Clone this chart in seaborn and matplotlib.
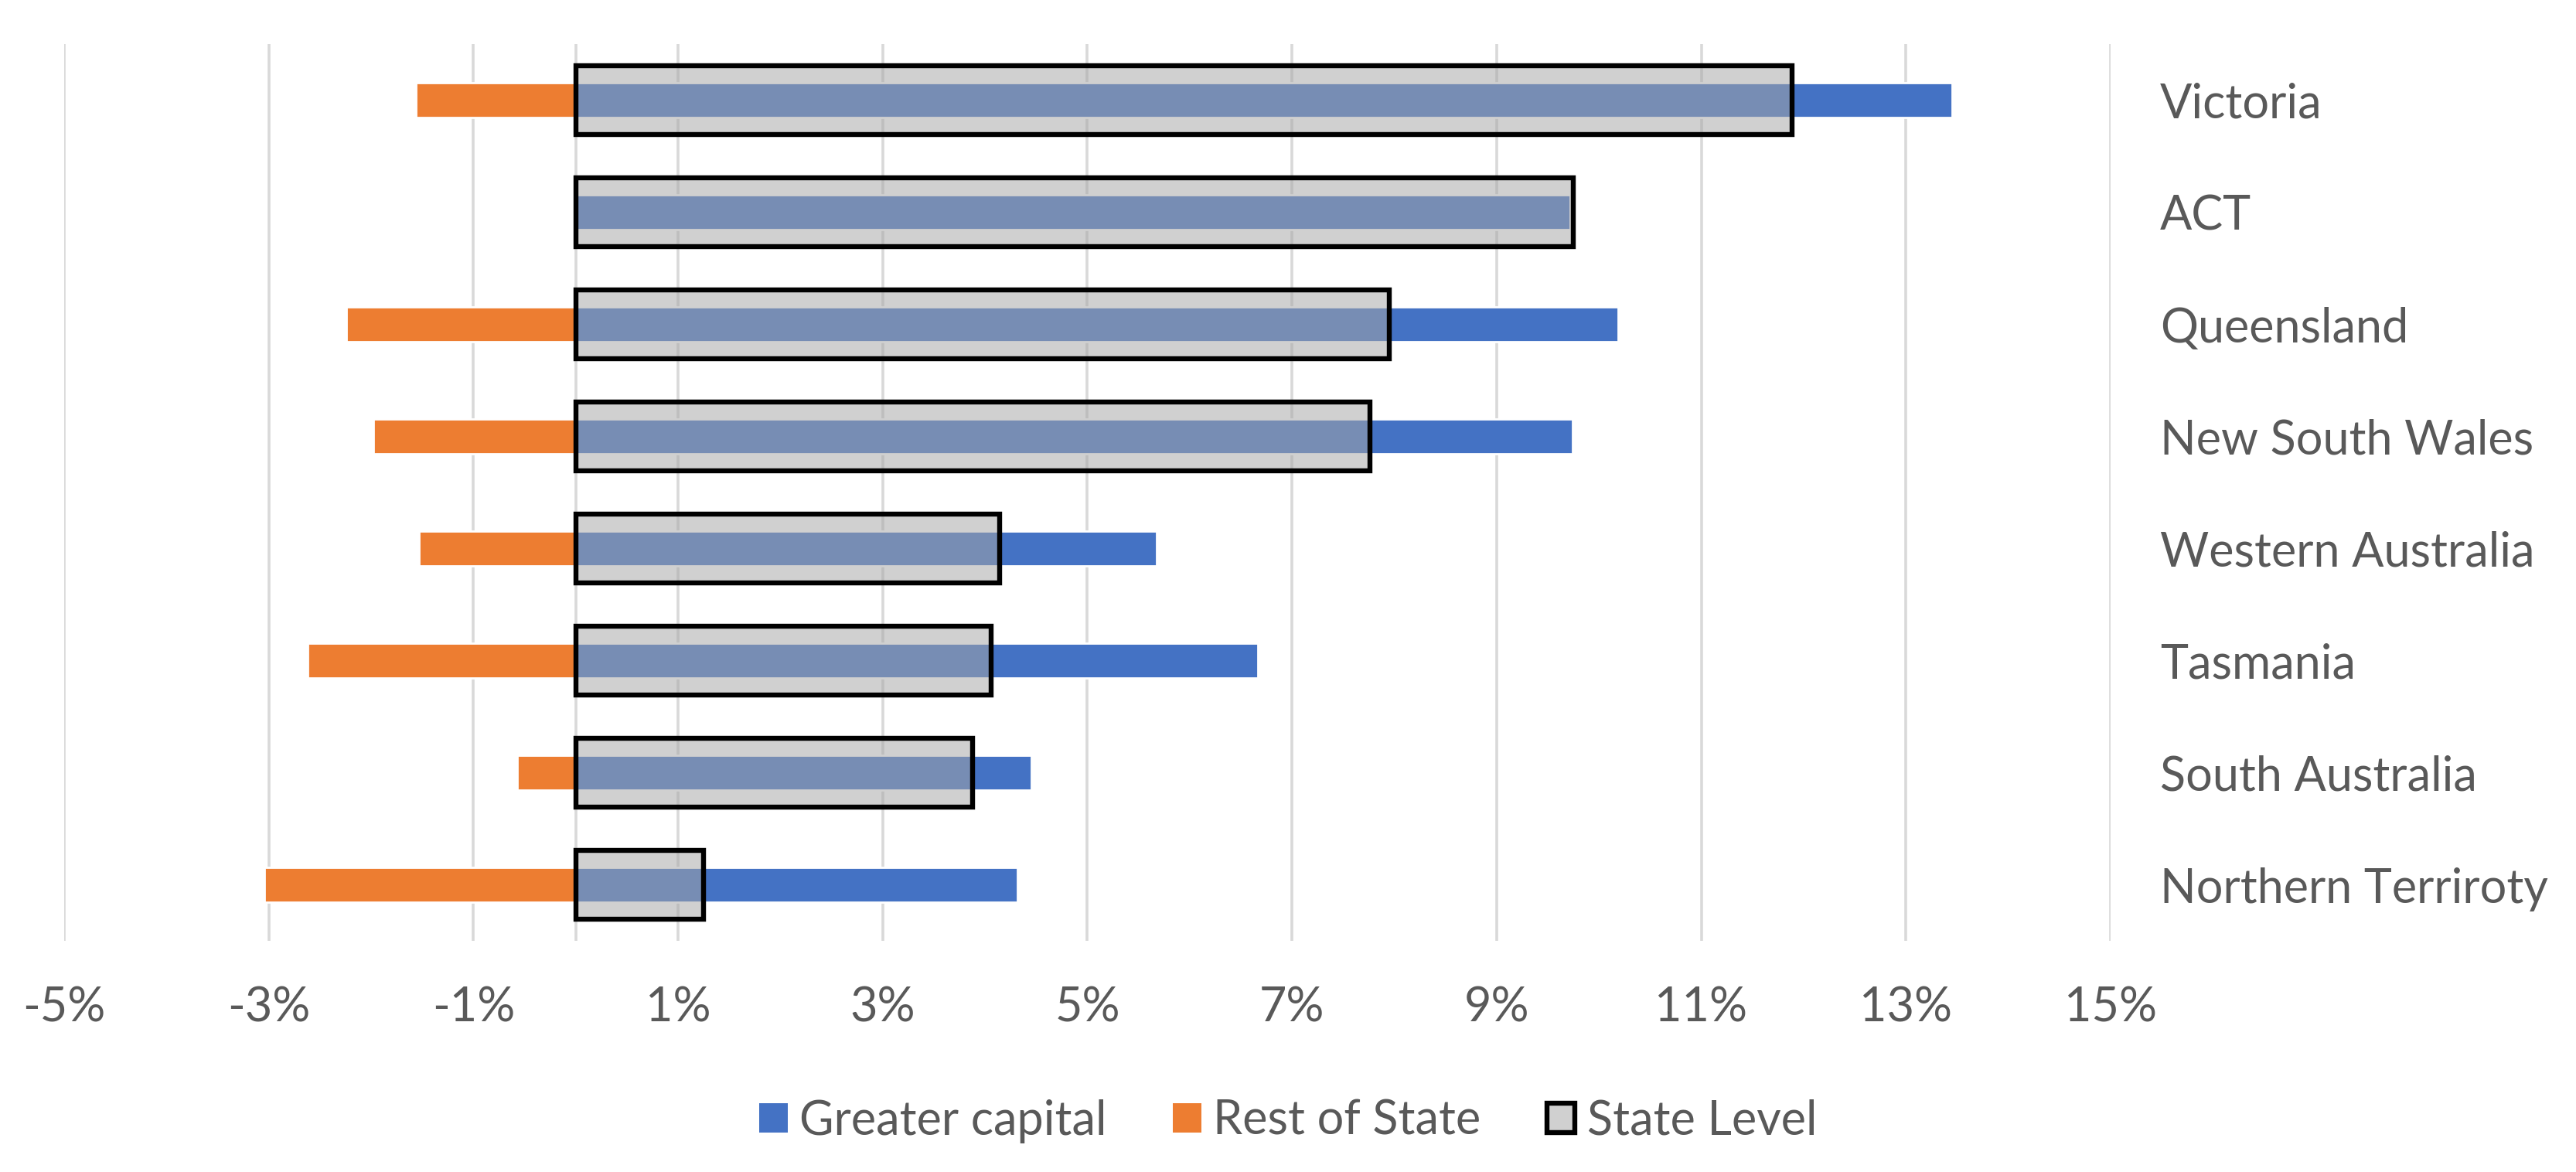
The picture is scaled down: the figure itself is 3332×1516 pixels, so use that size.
import numpy as np
import pandas as pd
import matplotlib
matplotlib.use("Agg")
import matplotlib.pyplot as plt
from matplotlib.patches import Patch
import seaborn as sns

# values in percent
states = ["Victoria", "ACT", "Queensland", "New South Wales", "Western Australia",
          "Tasmania", "South Australia", "Northern Terriroty"]
greater_capital = [13.45, 9.72, 10.19, 9.74, 5.68, 6.67, 4.45, 4.32]
rest_of_state = [-1.56, np.nan, -2.24, -1.98, -1.53, -2.62, -0.57, -3.04]
state_level = [11.89, 9.75, 7.95, 7.76, 4.14, 4.06, 3.88, 1.25]
x_ticks = list(range(-5, 16, 2))

df = pd.DataFrame({
    "State": states,
    "Greater capital": greater_capital,
    "Rest of State": rest_of_state,
    "State Level": state_level,
})

sns.set_style("white")
plt.rcParams["font.family"] = ["Lato", "DejaVu Sans"]

text_grey = "#595959"
blue = "#4472C4"
orange = "#ED7D31"
grid_grey = "#D9D9D9"

fig = plt.figure(figsize=(16.66, 7.58), dpi=200)
ax = fig.add_axes([0.0249, 0.1972, 0.8193 - 0.0249, 0.9624 - 0.1972])

sns.barplot(data=df, x="Greater capital", y="State", order=states, color=blue,
            saturation=1, width=0.31, errorbar=None, ax=ax)
sns.barplot(data=df, x="Rest of State", y="State", order=states, color=orange,
            saturation=1, width=0.31, errorbar=None, ax=ax)
n_before = len(ax.patches)
sns.barplot(data=df, x="State Level", y="State", order=states, color="#A6A6A6",
            saturation=1, width=0.62, errorbar=None, ax=ax)
# translucent grey box with black outline on top of the capital bar
for p in ax.patches[n_before:]:
    p.set_facecolor((0.651, 0.651, 0.651, 0.525))
    p.set_edgecolor("black")
    p.set_linewidth(2.3)
    p.set_zorder(3)

ax.set_xlim(-5, 15)
ax.set_ylim(7.5, -0.5)
ax.set_xticks(x_ticks)
ax.set_xticklabels([f"{t}%" for t in x_ticks])
ax.set_axisbelow(True)
ax.grid(axis="x", color=grid_grey, linewidth=1.3)
ax.grid(axis="y", visible=False)
ax.axvline(0, color=grid_grey, linewidth=1.3, zorder=0.5)

ax.yaxis.tick_right()
ax.tick_params(axis="y", length=0, pad=23, labelsize=22, labelcolor=text_grey)
ax.tick_params(axis="x", length=0, pad=21, labelsize=22, labelcolor=text_grey)
ax.set_xlabel("")
ax.set_ylabel("")
for s in ax.spines.values():
    s.set_visible(False)

handles = [
    Patch(facecolor=blue, edgecolor="none"),
    Patch(facecolor=orange, edgecolor="none"),
    Patch(facecolor="#D0D0D0", edgecolor="black", linewidth=2.3),
]
fig.legend(handles, ["Greater capital", "Rest of State", "State Level"],
           loc="center", bbox_to_anchor=(0.5, 0.0435), ncol=3, frameon=False,
           fontsize=22, labelcolor=text_grey, handlelength=0.6, handleheight=0.6,
           handletextpad=0.25, columnspacing=1.4)

fig.savefig("out.png", dpi=200)
